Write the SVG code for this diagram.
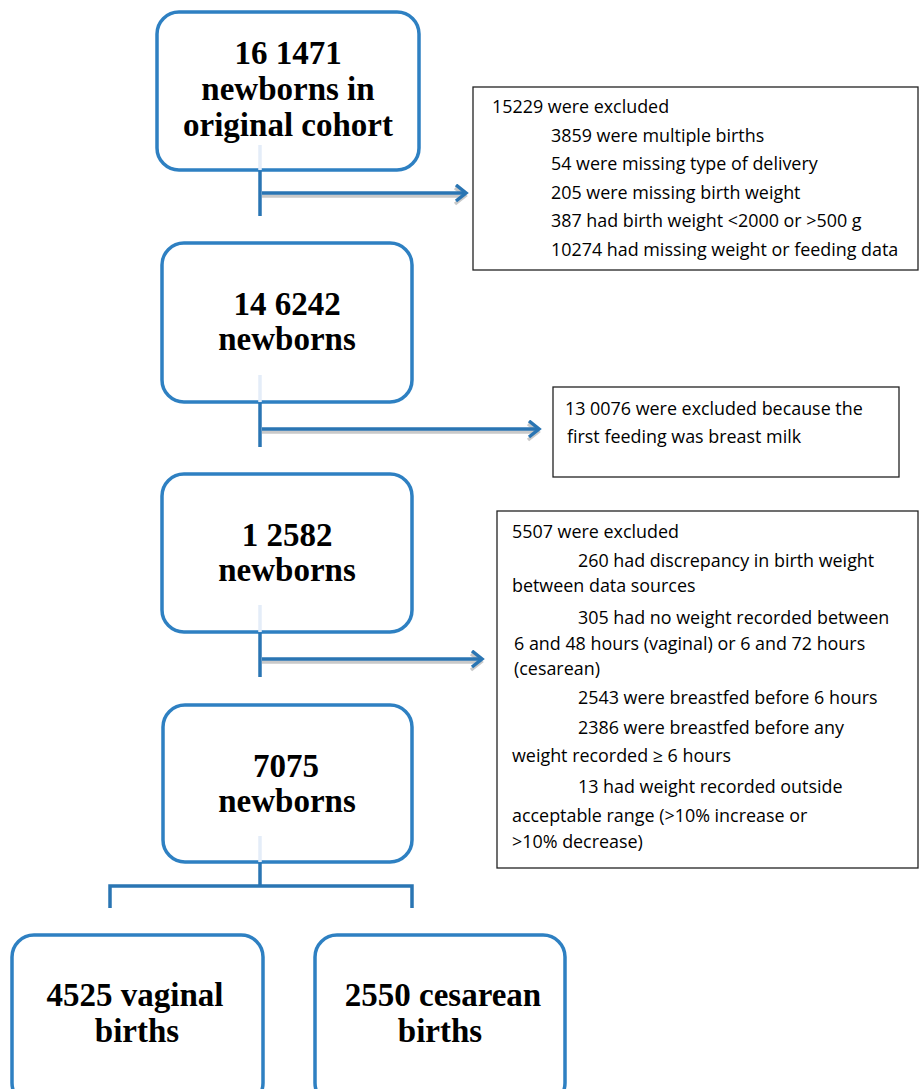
<svg xmlns="http://www.w3.org/2000/svg" width="923" height="1089" viewBox="0 0 923 1089">
<style>
.node{fill:#fff;stroke:#2e80c2;stroke-width:3.5}
.ex{fill:#fff;stroke:#222;stroke-width:1.3}
.h{font-family:"Liberation Serif",serif;font-weight:bold;font-size:33px;fill:#000;text-anchor:middle}
.t{font-family:"Open Sans","Liberation Sans",sans-serif;font-size:17.9px;fill:#000}
.ln{stroke:#2a75b3;stroke-width:3.5;fill:none}
.fade{stroke:#e4edf8;stroke-width:3.5;fill:none}
.sh{stroke:#c9c9c9;stroke-width:3.5;fill:none}
</style>
<defs>
<marker id="ah" markerUnits="userSpaceOnUse" markerWidth="16" markerHeight="20" refX="12" refY="9" orient="auto">
<path d="M2,1 L12,9 L2,17" fill="none" stroke="#2a75b3" stroke-width="3.5"/>
</marker>
<marker id="ahs" markerUnits="userSpaceOnUse" markerWidth="16" markerHeight="20" refX="12" refY="9" orient="auto">
<path d="M2,1 L12,9 L2,17" fill="none" stroke="#c9c9c9" stroke-width="3.5"/>
</marker>
</defs>

<g id="n1">
<rect class="node" x="157" y="12" width="262" height="158" rx="22"/>
<text class="h" x="288" y="64">16 1471</text>
<text class="h" x="288" y="100">newborns in</text>
<text class="h" x="288" y="136">original cohort</text>
</g>
<g id="x1">
<rect class="ex" x="473" y="87" width="445" height="183"/>
<text class="t" x="492" y="113">15229 were excluded</text>
<text class="t" x="551" y="142">3859 were multiple births</text>
<text class="t" x="551" y="170">54 were missing type of delivery</text>
<text class="t" x="551" y="199">205 were missing birth weight</text>
<text class="t" x="551" y="227">387 had birth weight &lt;2000 or &gt;500 g</text>
<text class="t" x="551" y="256">10274 had missing weight or feeding data</text>
</g>
<g id="n2">
<rect class="node" x="162" y="243" width="250" height="159" rx="22"/>
<text class="h" x="287" y="315">14 6242</text>
<text class="h" x="287" y="350">newborns</text>
</g>
<g id="x2">
<rect class="ex" x="553" y="387" width="346" height="90"/>
<text class="t" x="565" y="415">13 0076 were excluded because the</text>
<text class="t" x="567" y="443">first feeding was breast milk</text>
</g>
<g id="n3">
<rect class="node" x="162" y="474" width="250" height="158" rx="22"/>
<text class="h" x="287" y="546">1 2582</text>
<text class="h" x="287" y="581">newborns</text>
</g>
<g id="x3">
<rect class="ex" x="497" y="511" width="421" height="357"/>
<text class="t" x="512" y="538">5507 were excluded</text>
<text class="t" x="578" y="567">260 had discrepancy in birth weight</text>
<text class="t" x="512" y="592">between data sources</text>
<text class="t" x="578" y="624">305 had no weight recorded between</text>
<text class="t" x="514" y="650">6 and 48 hours (vaginal) or 6 and 72 hours</text>
<text class="t" x="514" y="675">(cesarean)</text>
<text class="t" x="578" y="704">2543 were breastfed before 6 hours</text>
<text class="t" x="578" y="734">2386 were breastfed before any</text>
<text class="t" x="512" y="762">weight recorded ≥ 6 hours</text>
<text class="t" x="578" y="793">13 had weight recorded outside</text>
<text class="t" x="512" y="822">acceptable range (&gt;10% increase or</text>
<text class="t" x="512" y="848">&gt;10% decrease)</text>
</g>
<g id="n4">
<rect class="node" x="163" y="705" width="249" height="157" rx="22"/>
<text class="h" x="286" y="777">7075</text>
<text class="h" x="287" y="812">newborns</text>
</g>
<g id="n5">
<rect class="node" x="12" y="935" width="251" height="170" rx="22"/>
<text class="h" x="135" y="1006">4525 vaginal</text>
<text class="h" x="137" y="1042">births</text>
</g>
<g id="n6">
<rect class="node" x="315" y="935" width="250" height="170" rx="22"/>
<text class="h" x="443" y="1006">2550  cesarean</text>
<text class="h" x="440" y="1042">births</text>
</g>

<g id="connectors">
<line class="fade" x1="260" y1="145" x2="260" y2="170"/>
<line class="fade" x1="260" y1="375" x2="260" y2="402"/>
<line class="fade" x1="260" y1="605" x2="260" y2="632"/>
<line class="fade" x1="260" y1="836" x2="260" y2="862"/>
<line class="ln" x1="260" y1="171" x2="260" y2="216"/>
<line class="ln" x1="260" y1="403" x2="260" y2="447"/>
<line class="ln" x1="260" y1="633" x2="260" y2="677"/>
<line class="sh" x1="262" y1="196" x2="465" y2="196" marker-end="url(#ahs)"/>
<line class="ln" x1="262" y1="193" x2="466" y2="193" marker-end="url(#ah)"/>
<line class="sh" x1="262" y1="432" x2="538" y2="432" marker-end="url(#ahs)"/>
<line class="ln" x1="262" y1="429" x2="539" y2="429" marker-end="url(#ah)"/>
<line class="sh" x1="262" y1="662" x2="481" y2="662" marker-end="url(#ahs)"/>
<line class="ln" x1="262" y1="659" x2="482" y2="659" marker-end="url(#ah)"/>
<path class="ln" d="M260,863 V886 M110,908 V886 H412 V908"/>
</g>
</svg>
